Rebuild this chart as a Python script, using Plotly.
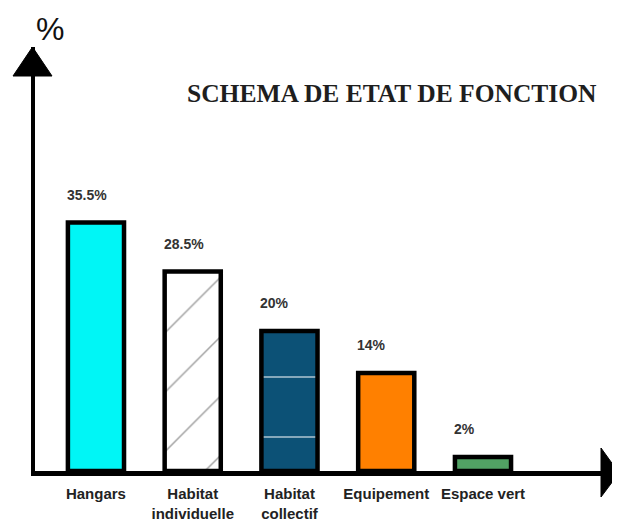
import plotly.graph_objects as go

categories = ["Hangars", "Habitat<br>individuelle", "Habitat<br>collectif", "Equipement", "Espace vert"]
values = [35.5, 28.5, 20, 14, 2]
value_labels = ["35.5%", "28.5%", "20%", "14%", "2%"]
bar_colors = ["#00f6f6", "#ffffff", "#0c5176", "#ff8000", "#51a264"]
pattern_shapes = ["", "/", "-", "", ""]
pattern_fg = ["#00f6f6", "#8a8a8a", "#bff4ff", "#ff8000", "#51a264"]
title_text = "SCHEMA DE ETAT DE FONCTION"
y_unit = "%"

# the page body has an 8px margin: figure pixel = reference pixel - OFF
OFF = 8
W, H = 612, 519
L, R, T, B = 27, 18, 39, 56
pw, ph = W - L - R, H - T - B


def px_x(xr):
    return (xr - OFF - L) / pw


def px_y(yr):
    return (H - B - (yr - OFF)) / ph


fig = go.Figure()
fig.add_trace(go.Bar(
    x=categories, y=values, width=0.58,
    marker=dict(
        color=bar_colors,
        line=dict(color="black", width=4.5),
        pattern=dict(shape=pattern_shapes, fgcolor=pattern_fg, fillmode="overlay",
                     size=[10, 42, 60, 10, 10], solidity=[0.0, 0.035, 0.035, 0.0, 0.0]),
    ),
    hoverinfo="skip",
))

for c, v, t in zip(categories, values, value_labels):
    fig.add_annotation(x=c, y=v, text="<b>" + t + "</b>", showarrow=False,
                       xanchor="left", yanchor="bottom", xshift=-31, yshift=18,
                       font=dict(family="Liberation Sans Narrow, Liberation Sans, Arial", size=14, color="#333333"))

fig.add_annotation(xref="paper", yref="paper", x=px_x(392), y=px_y(94),
                   text="<b>" + title_text + "</b>", showarrow=False, xanchor="center", yanchor="middle",
                   font=dict(family="Liberation Serif, Times New Roman, serif", size=25.5, color="#1e1e1e"))
fig.add_annotation(xref="paper", yref="paper", x=px_x(34), y=px_y(29),
                   text=y_unit, showarrow=False, xanchor="left", yanchor="middle",
                   font=dict(family="Liberation Sans Narrow, Liberation Sans, Arial", size=32, color="#111111"))

shapes = [
    dict(type="path", xref="paper", yref="paper",
         path=f"M {px_x(13)},{px_y(76)} L {px_x(32.5)},{px_y(47)} L {px_x(52)},{px_y(76)} Z",
         fillcolor="black", line=dict(color="black", width=1)),
    dict(type="path", xref="paper", yref="paper",
         path=f"M {px_x(601)},{px_y(448)} L {px_x(619)},{px_y(473)} L {px_x(601)},{px_y(497)} Z",
         fillcolor="black", line=dict(color="black", width=1)),
]

fig.update_layout(
    width=W, height=H,
    margin=dict(l=L, r=R, t=T, b=B, pad=0, autoexpand=False),
    paper_bgcolor="white", plot_bgcolor="white",
    showlegend=False, shapes=shapes,
)
fig.update_xaxes(range=[-0.63, 5.23], showline=True, linecolor="black", linewidth=5, automargin=False,
                 ticks="", showgrid=False, zeroline=False, ticklabelstandoff=5,
                 tickfont=dict(family="Liberation Sans, Arial", size=15, color="#222222", weight="bold"))
fig.update_yaxes(range=[0, 60.6], showline=True, linecolor="black", linewidth=4, automargin=False,
                 showticklabels=False, ticks="", showgrid=False, zeroline=False)

fig.write_html("out.html")
